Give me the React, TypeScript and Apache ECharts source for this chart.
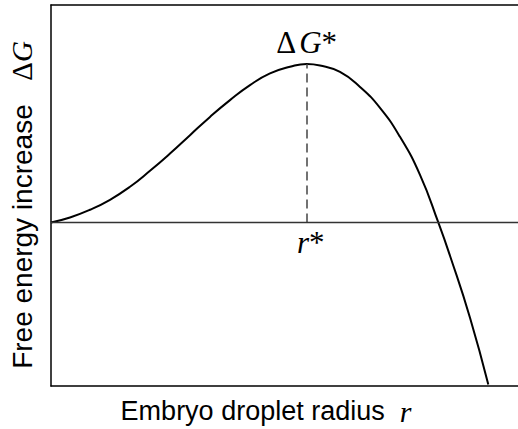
import React, { useEffect, useRef } from "react";
import * as echarts from "echarts";

// Embryo droplet radius r (arbitrary units)
const radius: number[] = [0, 0.19, 0.39, 0.59, 0.79, 0.99, 1.19, 1.39, 1.59, 1.79, 1.99, 2.19, 2.39, 2.557, 2.69, 2.89, 3.09, 3.29, 3.49, 3.69, 3.873, 3.99, 4.19, 4.373];
// Free energy increase ΔG (arbitrary units)
const deltaG: number[] = [0, 0.05, 0.127, 0.227, 0.357, 0.517, 0.69, 0.874, 1.057, 1.225, 1.375, 1.492, 1.558, 1.587, 1.572, 1.507, 1.357, 1.147, 0.857, 0.477, 0, -0.333, -0.953, -1.623];
// Critical point
const rStar = 2.557;
const gStar = 1.587;
const xRange: number[] = [0, 4.67];
const yRange: number[] = [-1.637, 2.177];

const SANS = "'Liberation Sans', Arial, Helvetica, sans-serif";
const SERIF = "'Liberation Serif', 'Times New Roman', serif";

const hiddenAxis = {
  type: "value",
  axisTick: { show: false },
  axisLabel: { show: false },
  splitLine: { show: false },
};

export default function App() {
  const ref = useRef<HTMLDivElement>(null);
  useEffect(() => {
    if (!ref.current) return;
    const chart = echarts.init(ref.current, undefined, { renderer: "svg" });
    const data = radius.map((r, i) => [r, deltaG[i]]);
    chart.setOption({
      animation: false,
      backgroundColor: "#fff",
      grid: { left: 51, top: 5, right: 0, bottom: 43 },
      xAxis: [
        { ...hiddenAxis, position: "bottom", min: xRange[0], max: xRange[1], axisLine: { show: true, onZero: false, lineStyle: { color: "#000", width: 1.5 } } },
        { ...hiddenAxis, position: "top", min: xRange[0], max: xRange[1], axisLine: { show: true, onZero: false, lineStyle: { color: "#000", width: 1.5 } } },
      ],
      yAxis: {
        ...hiddenAxis,
        min: yRange[0],
        max: yRange[1],
        axisLine: { show: true, onZero: false, lineStyle: { color: "#000", width: 1.5 } },
      },
      graphic: [
        {
          type: "text",
          x: 266,
          y: 411,
          style: {
            text: "Embryo droplet radius  {r|r}",
            fontFamily: SANS,
            fontSize: 27,
            fill: "#000",
            textAlign: "center",
            textVerticalAlign: "middle",
            rich: {
              r: { fontFamily: SERIF, fontStyle: "italic", fontSize: 30, fill: "#000" },
            },
          },
        },
        {
          type: "text",
          x: 22,
          y: 205,
          rotation: Math.PI / 2,
          style: {
            text: "Free energy increase  {d|Δ}{g|G}",
            fontFamily: SANS,
            fontSize: 28,
            fill: "#000",
            textAlign: "center",
            textVerticalAlign: "middle",
            rich: {
              d: { fontFamily: SERIF, fontStyle: "normal", fontSize: 29, fill: "#000", padding: [0, 0, 0, 8] },
              g: { fontFamily: SERIF, fontStyle: "italic", fontSize: 29, fill: "#000" },
            },
          },
        },
      ],
      series: [
        {
          type: "line",
          data,
          smooth: 0.5,
          symbol: "none",
          lineStyle: { color: "#000", width: 2 },
          markLine: {
            silent: true,
            symbol: "none",
            label: { show: false },
            data: [
              [
                { coord: [rStar, 0], lineStyle: { color: "#444", width: 1.5, type: [9, 5] } },
                { coord: [rStar, gStar] },
              ],
              { yAxis: 0, lineStyle: { color: "#333", width: 1.3, type: "solid" } },
            ],
          },
          markPoint: {
            silent: true,
            symbol: "circle",
            symbolSize: 0,
            data: [
              {
                coord: [rStar, gStar],
                label: {
                  show: true,
                  position: "top",
                  distance: 6,
                  formatter: "{d|Δ}{g|G}{s|*}",
                  rich: {
                    d: { fontFamily: SERIF, fontStyle: "normal", fontSize: 31, color: "#000", padding: [0, 3, 0, 0] },
                    g: { fontFamily: SERIF, fontStyle: "italic", fontSize: 31, color: "#000" },
                    s: { fontFamily: SERIF, fontSize: 31, color: "#000" },
                  },
                },
              },
              {
                coord: [rStar, 0],
                label: {
                  show: true,
                  position: "bottom",
                  distance: 5,
                  offset: [4, 0],
                  formatter: "{r|r}{s|*}",
                  rich: {
                    r: { fontFamily: SERIF, fontStyle: "italic", fontSize: 31, color: "#000" },
                    s: { fontFamily: SERIF, fontSize: 31, color: "#000" },
                  },
                },
              },
            ],
          },
        },
      ],
    });
    return () => chart.dispose();
  }, []);
  return <div ref={ref} style={{ width: 518, height: 429, position: "absolute", left: 0, top: 0 }} />;
}
